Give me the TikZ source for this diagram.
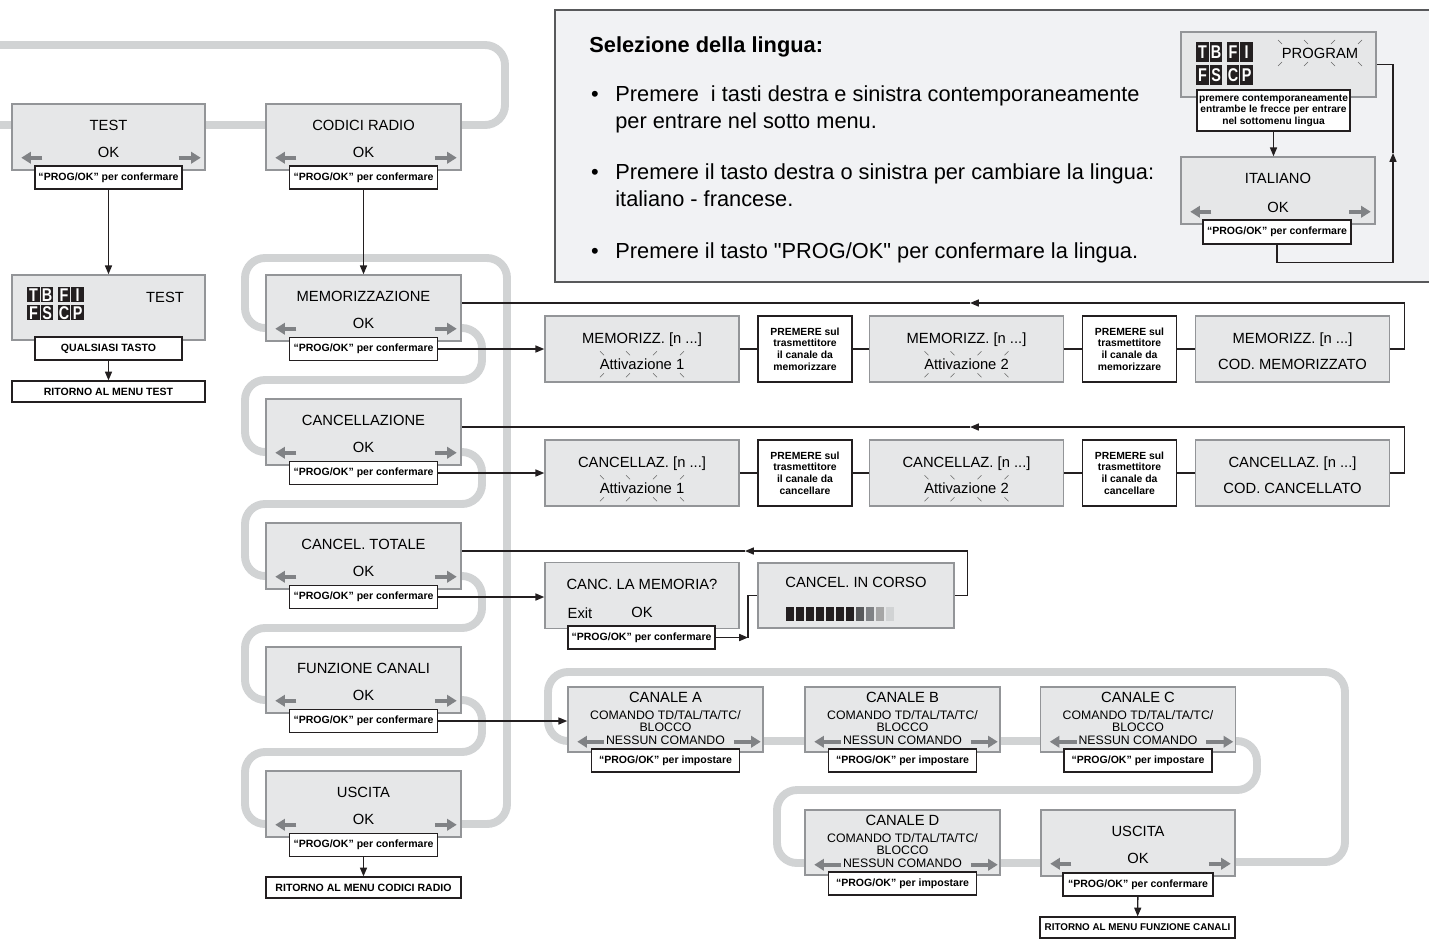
\documentclass[tikz,border=0pt]{standalone}
\usepackage{fontspec}
\setmainfont{Liberation Sans}
\newfontfamily\plainfont{Liberation Sans}
\newfontfamily\iconfont{Liberation Sans}[FakeStretch=0.78]
\usetikzlibrary{arrows.meta,calc,positioning}

\definecolor{dispfill}{HTML}{E6E7E8}
\definecolor{dispdraw}{HTML}{939598}
\definecolor{trackgrey}{HTML}{D1D3D4}
\definecolor{arrowgrey}{HTML}{808285}
\definecolor{framefill}{HTML}{F1F2F4}
\definecolor{framedraw}{HTML}{58595B}
\definecolor{inkblack}{HTML}{231F20}

\newcommand\ttlfont{\fontsize{8.4}{10}\selectfont}
\newcommand\tagfont{\bfseries\fontsize{6}{7}\selectfont}
\newcommand\notefont{\bfseries\fontsize{5.9}{6.6}\selectfont}
\newcommand\chfont{\fontsize{7}{7.1}\selectfont}
\newcommand\langfont{\fontsize{12.4}{15}\selectfont}
\newcommand\langtagfont{\bfseries\fontsize{5.8}{6.4}\selectfont}

\tikzset{
    wh/.style 2 args={minimum width=#1*0.02cm, minimum height=#2*0.02cm},
    disp/.style={draw=dispdraw, fill=dispfill, line width=0.85pt, inner sep=0pt, wh={194}{66}},
    tag/.style={draw=inkblack, fill=white, line width=0.7pt, inner sep=0pt, font=\tagfont, wh={148}{23}},
    note/.style={draw=inkblack, fill=white, line width=0.8pt, inner sep=0pt, align=center, font=\notefont, wh={94}{66}},
    ttl/.style={font=\ttlfont, inner sep=0pt, text height=6pt, text depth=0pt},
    chtext/.style={font=\chfont, align=center, inner sep=0pt},
    iconcell/.style={fill=inkblack, text=white, font=\iconfont\bfseries\fontsize{10.5}{10}\selectfont, inner sep=0pt, minimum width=0.25cm, anchor=north west},
    track/.style={draw=trackgrey, line width=4.5pt, rounded corners=0.4cm},
    link/.style={draw=inkblack, line width=0.75pt},
    flow/.style={link, -{Triangle[length=5pt, width=4pt]}},
    garrow/.style={draw=arrowgrey, line width=2.2pt, -{Triangle[length=5.5pt, width=6.5pt]}},
    ray/.style={draw=black!60, line width=0.3pt},
    frame/.style={draw=framedraw, fill=framefill, line width=1.1pt}
}

% grey left/right arrows of a display
\newcommand\okarrows[1]{%
    \draw[garrow] ($(#1.south west)+(31,-13)$) -- ($(#1.south west)+(10,-13)$);
    \draw[garrow] ($(#1.south east)+(-27,-13)$) -- ($(#1.south east)+(-5,-13)$);}
% blinking marks round a text
\newcommand\blink[1]{%
    \foreach \dx/\ya/\yb/\yc/\yd in {-40/-13/-9/13/9, -14/-13/-9/13/9, 13/-9/-13/9/13, 40/-9/-13/9/13} {
        \draw[ray] ($(#1)+(\dx-2,\ya)$) -- ($(#1)+(\dx+2,\yb)$);
        \draw[ray] ($(#1)+(\dx-2,\yc)$) -- ($(#1)+(\dx+2,\yd)$);
    }}
% TB FI / FS CP icon
\newcommand\modeicon[4]{%
    \foreach \ch/\dx/\dy [count=\k] in {T/0/0, B/13.5/0, F/30.5/0, I/44/0, F/0/1, S/13.5/1, C/30.5/1, P/44/1}
        \node[iconcell, minimum height=#4*0.02cm] (#1-\k) at (#2+\dx, #3+\dy*#4+\dy*3) {\ch};}

\begin{document}
\begin{tikzpicture}[x=0.02cm, y=-0.02cm]
    \useasboundingbox (0,0) rectangle (1429,938);

    % grey menu tracks
    \draw[track] (0,125) -- (505,125) -- (505,45) -- (0,45);
    \draw[track] (461,824) -- (507,824) -- (507,258) -- (245,258) -- (245,328)
        -- (482,328) -- (482,380) -- (245,380) -- (245,452)
        -- (482,452) -- (482,504) -- (245,504) -- (245,576)
        -- (482,576) -- (482,628) -- (245,628) -- (245,700)
        -- (482,700) -- (482,752) -- (245,752) -- (245,824) -- (461,824);
    \draw[track] (1235,862) -- (1345,862) -- (1345,672) -- (548,672) -- (548,741)
        -- (1257,741) -- (1257,790) -- (777,790) -- (777,863) -- (1235,863);

    % TEST
    \node[disp, wh={193}{66}] (test) at (108.5,137) {};
    \node[ttl] (test-t) at ($(test.north)+(0,22)$) {TEST};
    \node[ttl] (test-ok) at ($(test.north)+(0,49)$) {OK};
    \okarrows{test}
    \node[tag, wh={147}{23}] (test-tag) at (108.5,177.5) {“PROG/OK” per confermare};

    \node[disp, wh={193}{65}] (test2) at (108.5,307.5) {};
    \modeicon{tic}{27}{287}{15}
    \node[ttl] (test2-t) at (165,297) {TEST};
    \node[tag, wh={147}{23}] (anykey) at (108.5,348.5) {QUALSIASI TASTO};
    \node[tag, wh={193}{21}] (backtest) at (108.5,391.5) {RITORNO AL MENU TEST};
    \draw[flow] (test-tag) -- (test2);
    \draw[flow] (anykey) -- (backtest);

    % CODICI RADIO
    \node[disp, wh={195}{66}] (radio) at (363.5,137) {};
    \node[ttl] (radio-t) at ($(radio.north)+(0,22)$) {CODICI RADIO};
    \node[ttl] (radio-ok) at ($(radio.north)+(0,49)$) {OK};
    \okarrows{radio}
    \node[tag] (radio-tag) at (363.5,177.5) {“PROG/OK” per confermare};

    \foreach \nm/\txt [count=\i from 0] in {mem/MEMORIZZAZIONE, canc/CANCELLAZIONE, tot/CANCEL. TOTALE, funz/FUNZIONE CANALI, usc/USCITA} {
        \node[disp, wh={195}{66}] (\nm) at (363.5,308+124*\i) {};
        \node[ttl] (\nm-t) at ($(\nm.north)+(0,22)$) {\txt};
        \node[ttl] (\nm-ok) at ($(\nm.north)+(0,49)$) {OK};
        \okarrows{\nm}
        \node[tag] (\nm-tag) at (363.5,349+124*\i) {“PROG/OK” per confermare};
    }
    \draw[flow] (radio-tag) -- (mem);
    \node[tag, wh={195}{21}] (backradio) at (363.5,887.5) {RITORNO AL MENU CODICI RADIO};
    \draw[flow] (usc-tag) -- (backradio);

    % MEMORIZZ. and CANCELLAZ. rows
    \foreach \r/\head/\act/\done/\src [count=\j from 0] in {m/MEMORIZZ./memorizzare/COD. MEMORIZZATO/mem, c/CANCELLAZ./cancellare/COD. CANCELLATO/canc} {
        \node[disp] (\r1) at (642,349+124*\j) {};
        \node[ttl] (\r1-t) at ($(\r1.north)+(0,23)$) {\head\ [n ...]};
        \node[ttl] (\r1-a) at ($(\r1.north)+(0,49)$) {Attivazione 1};
        \blink{\r1-a}
        \node[note] (\r p1) at (805,349+124*\j) {PREMERE sul\\trasmettitore\\il canale da\\\act};
        \node[disp] (\r2) at (966.5,349+124*\j) {};
        \node[ttl] (\r2-t) at ($(\r2.north)+(0,23)$) {\head\ [n ...]};
        \node[ttl] (\r2-a) at ($(\r2.north)+(0,49)$) {Attivazione 2};
        \blink{\r2-a}
        \node[note] (\r p2) at (1129.5,349+124*\j) {PREMERE sul\\trasmettitore\\il canale da\\\act};
        \node[disp] (\r3) at (1292.5,349+124*\j) {};
        \node[ttl] (\r3-t) at ($(\r3.north)+(0,23)$) {\head\ [n ...]};
        \node[ttl] (\r3-a) at ($(\r3.north)+(0,49)$) {\done};
        \draw[link] (\r1) -- (\r p1);
        \draw[link] (\r p1) -- (\r2);
        \draw[link] (\r2) -- (\r p2);
        \draw[link] (\r p2) -- (\r3);
        \draw[flow] (\src-tag.east) -- (\src-tag.east -| \r1.west);
        \coordinate (\r-tip) at (970,303+124*\j);
        \draw[flow] (\r3.east) -- ++(14,0) |- (\r-tip);
        \draw[link] (\r-tip) -- (\r-tip -| \src.east);
    }

    % CANCEL. TOTALE row
    \node[disp] (ask) at (642,595.5) {};
    \node[ttl] (ask-t) at ($(ask.north)+(0,22)$) {CANC. LA MEMORIA?};
    \node[ttl] (ask-exit) at (580,613) {Exit};
    \node[ttl] (ask-ok) at (642,612) {OK};
    \node[tag, wh={147}{23}] (ask-tag) at (641.5,637.5) {“PROG/OK” per confermare};
    \node[disp, wh={196}{65}] (busy) at (856,595.5) {};
    \node[ttl] (busy-t) at ($(busy.north)+(0,20)$) {CANCEL. IN CORSO};
    \foreach \c [count=\k from 0] in {inkblack,inkblack,inkblack,inkblack,inkblack,inkblack,inkblack,framedraw,arrowgrey,black!35,trackgrey}
        \fill[\c] (786+10*\k,607) rectangle ++(8,14);
    \draw[flow] (tot-tag.east) -- (tot-tag.east -| ask.west);
    \coordinate (a-tip) at (748,637.5);
    \draw[flow] (ask-tag.east) -- (a-tip);
    \draw[link] (a-tip) |- (busy.west);
    \coordinate (t-tip) at (745,551);
    \draw[flow] (busy.east) -- ++(13,0) |- (t-tip);
    \draw[link] (t-tip) -- (t-tip -| tot.east);

    % FUNZIONE CANALI
    \foreach \nm/\lt/\x/\y in {chA/A/665.5/719.5, chB/B/902.5/719.5, chC/C/1138/719.5, chD/D/902.5/842.5} {
        \node[disp, wh={195}{65}] (\nm) at (\x,\y) {};
        \node[ttl] (\nm-t) at ($(\nm.north)+(0,11)$) {CANALE \lt};
        \node[chtext] (\nm-c) at ($(\nm.north)+(0,41)$) {COMANDO TD/TAL/TA/TC/\\BLOCCO\\NESSUN COMANDO};
        \draw[garrow] ($(\nm.south west)+(37,-11)$) -- ($(\nm.south west)+(10,-11)$);
        \draw[garrow] ($(\nm.south east)+(-30,-11)$) -- ($(\nm.south east)+(-3,-11)$);
        \node[tag] (\nm-tag) at (\x,\y+41) {“PROG/OK” per impostare};
    }
    \draw[flow] (funz-tag.east) -- (funz-tag.east -| chA.west);
    \node[disp] (cexit) at (1138,843) {};
    \node[ttl] (cexit-t) at ($(cexit.north)+(0,22)$) {USCITA};
    \node[ttl] (cexit-ok) at ($(cexit.north)+(0,49)$) {OK};
    \okarrows{cexit}
    \node[tag, wh={150}{23}] (cexit-tag) at (1138,884.5) {“PROG/OK” per confermare};
    \node[tag, wh={195}{21}, font=\bfseries\fontsize{5.6}{7}\selectfont] (backch) at (1137.5,927.5) {RITORNO AL MENU FUNZIONE CANALI};
    \draw[flow] (cexit-tag) -- (backch);

    % language selection
    \filldraw[frame] (555,10) rectangle (1434,282);
    \node[anchor=base west, inner sep=0pt, font=\bfseries\langfont] (lang-h) at (589,52) {Selezione della lingua:};
    \foreach \b/\y in {1/101, 2/179, 3/258}
        \node[anchor=base, inner sep=0pt, font=\langfont] (dot\b) at (595,\y) {•};
    \node[anchor=base west, inner sep=0pt, font=\langfont] (lang-1a) at (615,101) {Premere\ \ i tasti destra e sinistra contemporaneamente};
    \node[anchor=base west, inner sep=0pt, font=\langfont] (lang-1b) at (615,128) {per entrare nel sotto menu.};
    \node[anchor=base west, inner sep=0pt, font=\langfont] (lang-2a) at (615,179) {Premere il tasto destra o sinistra per cambiare la lingua:};
    \node[anchor=base west, inner sep=0pt, font=\langfont] (lang-2b) at (615,206) {italiano - francese.};
    \node[anchor=base west, inner sep=0pt, font=\plainfont\langfont] (lang-3a) at (615,258) {Premere il tasto "PROG/OK" per confermare la lingua.};

    \node[disp, wh={195}{65}] (prog) at (1278.5,64.5) {};
    \modeicon{lic}{1196}{42}{20}
    \node[ttl] (prog-t) at (1320,53) {PROGRAM};
    \blink{prog-t}
    \node[tag, wh={153}{41}, align=center, font=\langtagfont] (prog-tag) at (1273.5,110.5) {premere contemporaneamente\\entrambe le frecce per entrare\\nel sottomenu lingua};
    \node[disp, wh={194}{67}] (ital) at (1278,190.5) {};
    \node[ttl] (ital-t) at ($(ital.north)+(0,22)$) {ITALIANO};
    \node[ttl] (ital-ok) at ($(ital.north)+(0,51)$) {OK};
    \okarrows{ital}
    \node[tag, wh={148}{24}] (ital-tag) at (1277,232) {“PROG/OK” per confermare};
    \draw[flow] (prog-tag.south) -- (prog-tag.south |- ital.north);
    \coordinate (l-tip) at (1393,153);
    \draw[flow] (ital-tag.south) -- ++(0,18) -| (l-tip);
    \draw[link] (l-tip) |- (prog.east);
\end{tikzpicture}
\end{document}
